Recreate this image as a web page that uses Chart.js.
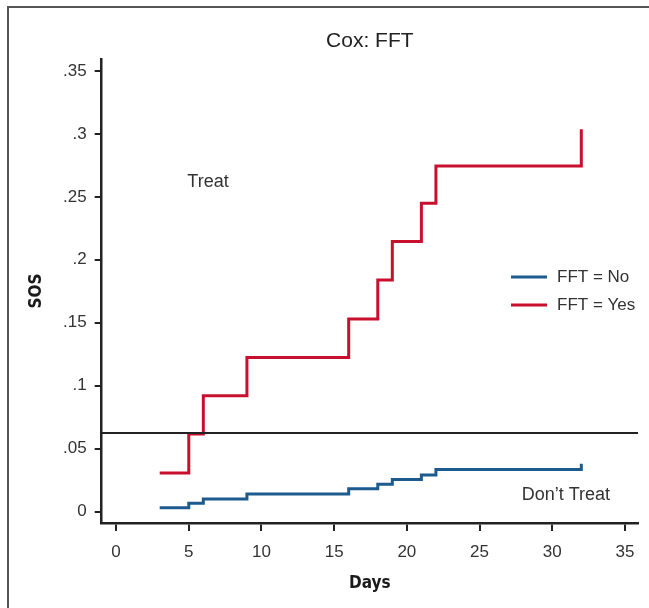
<!DOCTYPE html>
<html>
<head>
<meta charset="utf-8">
<script src="https://cdn.jsdelivr.net/npm/chart.js@4"></script>
<style>
  html, body { margin: 0; background: #fff; overflow: hidden; }
  canvas { display: block; }
</style>
</head>
<body>
<canvas id="c" width="649" height="608"></canvas>
<script>
// Cox: FFT -- cumulative SOS by days, step curves
const days = [3, 5, 6, 9, 16, 18, 19, 21, 22, 32];
const fftYes = [0.0308, 0.0616, 0.092, 0.1225, 0.153, 0.184, 0.2146, 0.245, 0.2745, 0.3037];
const fftNo = [0.0032, 0.0067, 0.0101, 0.0141, 0.0181, 0.0218, 0.0255, 0.0292, 0.0334, 0.038];
const threshold = 0.0624;
const xTicks = [0, 5, 10, 15, 20, 25, 30, 35];
const yTicks = [0, 0.05, 0.1, 0.15, 0.2, 0.25, 0.3, 0.35];
const notes = [
  { text: 'Treat', x: 4.9, y: 0.2615 },
  { text: 'Don\u2019t Treat', x: 27.9, y: 0.0131 },
];

const X_MIN = -0.99, X_MAX = 35.9, Y_MIN = -0.009, Y_MAX = 0.3593;
const FONT = '"Liberation Sans", Arial, sans-serif';
const COND = '"DejaVu Sans Condensed", "Liberation Sans Narrow", sans-serif';

const pts = ys => days.map((d, i) => ({ x: d, y: ys[i] }));

// figure frame (left and top edges only, like the cropped panel)
const frame = {
  id: 'frame',
  beforeDraw(chart) {
    const ctx = chart.ctx;
    ctx.save();
    ctx.strokeStyle = '#555';
    ctx.lineWidth = 2;
    ctx.beginPath();
    ctx.moveTo(8, chart.height); ctx.lineTo(8, 7); ctx.lineTo(chart.width, 7);
    ctx.stroke();
    ctx.restore();
  }
};

const extras = {
  id: 'extras',
  afterDatasetsDraw(chart) {
    const { ctx, scales: { x, y } } = chart;
    ctx.save();
    ctx.fillStyle = '#333';
    ctx.textBaseline = 'middle';
    ctx.textAlign = 'left';
    ctx.font = '18px ' + FONT;
    notes.forEach(n => ctx.fillText(n.text, x.getPixelForValue(n.x), y.getPixelForValue(n.y)));
    // legend
    ctx.font = '17px ' + FONT;
    const items = chart.data.datasets.filter(d => d.label);
    items.forEach((d, i) => {
      const ly = 277 + i * 28;
      ctx.strokeStyle = d.borderColor;
      ctx.lineWidth = 3;
      ctx.beginPath(); ctx.moveTo(511, ly); ctx.lineTo(547, ly); ctx.stroke();
      ctx.fillText(d.label, 557, ly);
    });
    ctx.restore();
  }
};

new Chart(document.getElementById('c'), {
  type: 'line',
  data: {
    datasets: [
      { label: '', data: [{ x: X_MIN, y: threshold }, { x: X_MAX, y: threshold }],
        borderColor: '#222', borderWidth: 2, pointRadius: 0 },
      { label: 'FFT = No', data: pts(fftNo), borderColor: '#1d5a8e', borderWidth: 3,
        stepped: 'before', pointRadius: 0 },
      { label: 'FFT = Yes', data: pts(fftYes), borderColor: '#c8102e', borderWidth: 3,
        stepped: 'before', pointRadius: 0 },
    ]
  },
  options: {
    responsive: false, animation: false,
    layout: { padding: { left: 0, right: 11, top: 29, bottom: 0 } },
    plugins: {
      legend: { display: false }, tooltip: { enabled: false },
      title: { display: true, text: 'Cox: FFT', fullSize: false, color: '#222',
               font: { family: FONT, size: 21, weight: 'normal' }, padding: { top: 0, bottom: 5 } }
    },
    scales: {
      x: {
        type: 'linear', min: X_MIN, max: X_MAX,
        afterBuildTicks: s => { s.ticks = xTicks.map(v => ({ value: v })); },
        afterFit: s => { s.height = 85; },
        ticks: { color: '#333', font: { family: FONT, size: 17 }, padding: 11, maxRotation: 0 },
        grid: { drawOnChartArea: false, tickLength: 8, color: '#222', lineWidth: 2 },
        border: { color: '#222', width: 2.5 },
        title: { display: true, text: 'Days', color: '#1a1a1a',
                 font: { family: COND, size: 17, weight: 'bold' }, padding: { top: 0, bottom: 14 } }
      },
      y: {
        min: Y_MIN, max: Y_MAX,
        afterBuildTicks: s => { s.ticks = yTicks.map(v => ({ value: v })); },
        afterFit: s => { s.width = 101.7; },
        ticks: { color: '#333', font: { family: FONT, size: 17 }, padding: 8,
                 callback: v => v === 0 ? '0' : String(+v.toFixed(2)).replace(/^0/, '') },
        grid: { drawOnChartArea: false, tickLength: 7, color: '#222', lineWidth: 2 },
        border: { color: '#222', width: 2.5 },
        title: { display: true, text: 'SOS', color: '#1a1a1a',
                 font: { family: COND, size: 17, weight: 'bold' }, padding: { top: 26, bottom: 0 } }
      }
    }
  },
  plugins: [frame, extras]
});
</script>
</body>
</html>
